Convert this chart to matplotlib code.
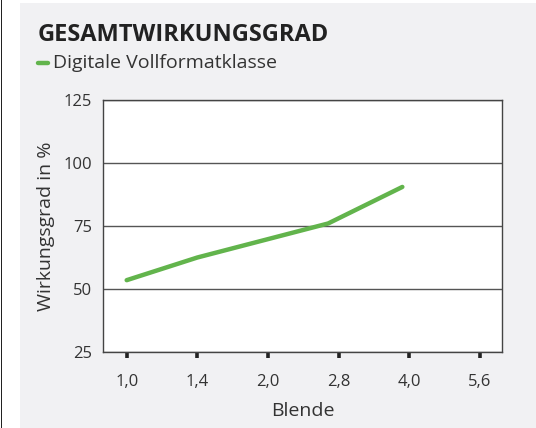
import numpy as np
import matplotlib
matplotlib.use("Agg")
import matplotlib.pyplot as plt
from matplotlib.patches import Rectangle

# data
blende_labels = ["1,0", "1,4", "2,0", "2,8", "4,0", "5,6"]
blende_stops = [0.0, 1.0, 2.85, 3.9]   # position in f-stops (1,0 = 0)
wirkungsgrad = [53.5, 62.5, 76.0, 90.5]
y_ticks = [25, 50, 75, 100, 125]

green = "#62b44c"
plt.rcParams["font.family"] = ["Open Sans", "DejaVu Sans"]

fig = plt.figure(figsize=(5.36, 4.28), dpi=100)
fig.patch.set_facecolor("white")
fig.patches.append(Rectangle((20 / 536, 0), 1, 1 - 3 / 428, transform=fig.transFigure,
                             facecolor="#f1f1f3", edgecolor="none", zorder=-2))
fig.patches.append(Rectangle((0.5 / 536, 0), 1.6 / 536, 1, transform=fig.transFigure,
                             facecolor="#222222", edgecolor="none", zorder=-2))

ax = fig.add_axes([103 / 536, 1 - 352 / 428, 399 / 536, 252 / 428])
ax.set_facecolor("white")
ax.plot(blende_stops, wirkungsgrad, color=green, lw=3.2, solid_capstyle="round", zorder=3)

ax.set_ylim(25, 125)
ax.set_yticks(y_ticks)
ax.set_xlim(-0.335, 5.31)
ax.set_xticks(np.arange(len(blende_labels)))
ax.set_xticklabels(blende_labels)
ax.yaxis.grid(True, color="#555555", lw=1.0)
ax.set_axisbelow(True)
for s in ax.spines.values():
    s.set_color("#444444")
    s.set_linewidth(1.0)
ax.tick_params(axis="y", length=0, pad=8, labelsize=12, labelcolor="#333333")
ax.tick_params(axis="x", length=4.5, width=2.6, color="#222222", pad=11,
               labelsize=12, labelcolor="#333333")
ax.set_xlabel("Blende", fontsize=14, color="#333333", labelpad=9)
ax.set_ylabel("Wirkungsgrad in %", fontsize=14, color="#333333", labelpad=6)

fig.text(38 / 536, 1 - 41 / 428, "GESAMTWIRKUNGSGRAD", fontsize=17,
         fontweight="bold", color="#222222")
fig.lines.append(plt.Line2D([37.5 / 536, 48 / 536], [1 - 63 / 428, 1 - 63 / 428],
                            transform=fig.transFigure, color=green, lw=3.2,
                            solid_capstyle="round"))
fig.text(53 / 536, 1 - 63 / 428, "Digitale Vollformatklasse", fontsize=14,
         color="#333333", va="center")

fig.savefig("out.png", dpi=100)
